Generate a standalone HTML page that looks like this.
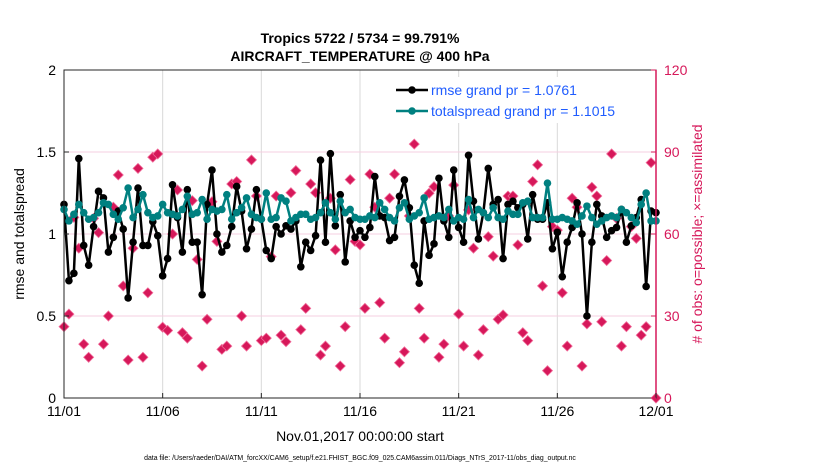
<!DOCTYPE html>
<html><head><meta charset="utf-8"><style>
body{margin:0;background:#fff;font-family:"Liberation Sans",Arial,sans-serif}
svg{display:block}
</style></head><body>
<svg width="830" height="470" viewBox="0 0 830 470" id="chart">
<text x="360" y="43" text-anchor="middle" font-size="14" font-weight="bold">Tropics 5722 / 5734 = 99.791%</text>
<text x="360" y="61" text-anchor="middle" font-size="14" font-weight="bold">AIRCRAFT_TEMPERATURE @ 400 hPa</text>
<g id="grid"></g>
<g id="obs"></g>
<g id="lines"></g>
<rect x="64" y="70" width="592" height="328" fill="none" stroke="#262626" stroke-width="1"/>
<line x1="656" y1="70" x2="656" y2="398" stroke="#d6185a" stroke-width="1.5"/>
<g id="axes"></g>
<text x="360" y="441" text-anchor="middle" font-size="14">Nov.01,2017 00:00:00 start</text>
<text transform="translate(24,234) rotate(-90)" text-anchor="middle" font-size="14">rmse and totalspread</text>
<text transform="translate(702,234) rotate(-90)" text-anchor="middle" font-size="14" fill="#d6185a"># of obs: o=possible; ×=assimilated</text>
<g>
<rect x="392" y="77" width="262" height="46" fill="#fff" stroke="none"/>
<g>
<line x1="396" y1="90" x2="428" y2="90" stroke="#000" stroke-width="2.5"/><circle cx="412" cy="90" r="3.8" fill="#000"/>
<text x="431" y="95" font-size="14" fill="#1f5cff">rmse grand pr = 1.0761</text></g>
<g>
<line x1="396" y1="111" x2="428" y2="111" stroke="#008080" stroke-width="2.5"/><circle cx="412" cy="111" r="3.8" fill="#008080"/>
<text x="431" y="116" font-size="14" fill="#1f5cff">totalspread grand pr = 1.1015</text></g>
</g>
<text x="360" y="460" text-anchor="middle" font-size="6.9">data file: /Users/raeder/DAI/ATM_forcXX/CAM6_setup/f.e21.FHIST_BGC.f09_025.CAM6assim.011/Diags_NTrS_2017-11/obs_diag_output.nc</text>
</svg>
<script>
const rmse=[1.18,0.715,0.76,1.46,0.93,0.81,1.045,1.26,1.22,0.89,0.98,1.14,1.03,0.61,0.95,1.28,0.93,0.93,1.075,0.99,0.745,0.85,1.30,1.10,0.89,1.27,0.95,0.95,0.63,1.18,1.39,
1.0,0.89,0.93,1.045,1.29,1.14,0.91,1.03,1.27,1.09,0.90,0.85,1.045,1.0,1.05,1.03,1.08,0.80,0.95,0.90,0.99,1.45,0.95,1.49,1.05,1.24,0.83,1.08,0.98,
1.02,0.98,1.04,1.35,1.11,1.10,0.96,0.98,1.23,1.33,1.16,0.81,0.70,1.08,0.87,0.94,1.34,1.08,0.98,1.39,1.04,0.95,1.48,1.20,0.97,1.13,1.40,1.18,1.21,0.85,1.18,
1.20,1.16,1.18,0.97,1.24,1.09,1.09,1.19,0.91,1.01,0.74,0.95,1.04,1.19,1.0,0.50,0.95,1.18,1.11,0.98,1.02,1.04,1.15,0.95,1.05,1.10,1.21,0.68,1.14,1.13];
const spread=[1.15,1.08,1.12,1.18,1.13,1.09,1.10,1.13,1.19,1.18,1.12,1.09,1.16,1.28,1.10,1.15,1.24,1.13,1.10,1.11,1.18,1.13,1.12,1.11,1.15,1.23,1.12,1.13,1.21,1.09,1.15,
1.14,1.15,1.24,1.09,1.13,1.16,1.22,1.12,1.10,1.09,1.25,1.09,1.10,1.22,1.20,1.08,1.10,1.12,1.12,1.09,1.10,1.13,1.19,1.13,1.09,1.20,1.13,1.15,1.10,1.09,
1.09,1.11,1.10,1.19,1.15,1.10,1.08,1.16,1.19,1.09,1.11,1.13,1.22,1.09,1.10,1.11,1.10,1.15,1.08,1.10,1.09,1.21,1.10,1.15,1.13,1.10,1.16,1.10,1.09,1.14,
1.12,1.12,1.19,1.20,1.10,1.10,1.10,1.31,1.09,1.09,1.10,1.09,1.08,1.06,1.11,1.17,1.10,1.06,1.08,1.10,1.11,1.10,1.15,1.13,1.10,1.07,1.18,1.25,1.08,1.08];
const obsCount=[26.1,30.7,66.1,54.8,19.7,14.9,65.7,60.5,19.7,30.0,69.8,81.6,41.0,13.9,54.8,84.0,14.9,38.5,88.1,89.3,25.9,24.7,60.0,76.1,23.9,21.9,72.2,50.7,11.7,28.8,71.8,
57.3,17.8,19.0,78.3,79.2,30.0,19.0,87.1,73.9,21.0,21.9,51.7,73.9,23.0,20.6,75.1,83.2,25.0,32.8,78.3,75.1,15.7,19.0,73.1,54.2,11.7,26.1,79.9,57.3,
56.0,32.8,81.9,69.8,34.9,21.9,73.1,81.9,12.9,16.9,66.6,92.9,32.8,21.9,74.9,77.3,14.9,19.7,66.6,77.9,30.7,19.0,68.8,54.8,15.7,25.0,59.0,51.9,28.8,30.4,73.9,
73.9,56.0,23.9,21.0,79.2,85.3,41.0,10.0,62.7,61.4,38.5,19.0,73.1,69.8,11.7,27.1,77.1,73.9,27.9,50.3,89.3,65.7,19.0,26.1,62.7,58.4,23.0,26.1,86.1,0];
const xTickLabels=["11/01","11/06","11/11","11/16","11/21","11/26","12/01"];
const leftTicks=[0,0.5,1,1.5,2];
const leftTickLabels=["0","0.5","1","1.5","2"];
const rightTicks=[0,30,60,90,120];

const NS="http://www.w3.org/2000/svg";
const X0=64,X1=656,Y0=398,Y1=70;
const xs=i=>X0+(X1-X0)*i/120;
const yL=v=>Y0-(Y0-Y1)*v/2;
const yR=v=>Y0-(Y0-Y1)*v/120;
function mk(tag,attrs,parent){const e=document.createElementNS(NS,tag);for(const k in attrs)e.setAttribute(k,attrs[k]);parent.appendChild(e);return e;}
const grid=document.getElementById('grid'),axes=document.getElementById('axes'),obs=document.getElementById('obs'),lines=document.getElementById('lines');
xTickLabels.forEach((t,k)=>{
  const x=xs(k*20);
  if(k>0&&k<xTickLabels.length-1){const g=mk('line',{x1:x,y1:Y1,x2:x,y2:Y0,stroke:'#d9d9d9','stroke-width':1},grid);
  
  }
  const tk=mk('line',{x1:x,y1:Y0,x2:x,y2:Y0-5,stroke:'#262626'},axes);
  
  
  const tx=mk('text',{x:x,y:Y0+18,'text-anchor':'middle','font-size':14},axes);tx.textContent=t;
  
  
});
leftTicks.forEach((v,k)=>{
  const y=yL(v);
  if(v>0&&v<2){const g=mk('line',{x1:X0,y1:y,x2:X1,y2:y,stroke:'#f5cfe0','stroke-width':1},grid);
  
  }
  const tk=mk('line',{x1:X0,y1:y,x2:X0+5,y2:y,stroke:'#262626'},axes);
  
  
  const tx=mk('text',{x:X0-8,y:y+5,'text-anchor':'end','font-size':14},axes);tx.textContent=leftTickLabels[k];
  
  
});
rightTicks.forEach(v=>{
  const y=yR(v);
  const tk=mk('line',{x1:X1,y1:y,x2:X1-5,y2:y,stroke:'#d6185a'},axes);
  
  
  const tx=mk('text',{x:X1+8,y:y+5,'font-size':14,fill:'#d6185a'},axes);tx.textContent=String(v);
  
  
});
obsCount.forEach((v,i)=>{
  const x=xs(i),y=yR(v);
  const d=mk('path',{d:`M${x-5},${y}L${x},${y-5}L${x+5},${y}L${x},${y+5}Z`,fill:'#d6185a',stroke:'#f06a98','stroke-width':0.8},obs);
  
  
});
function series(arr,color,name){
  const p=mk('polyline',{points:arr.map((v,i)=>xs(i)+','+yL(v)).join(' '),fill:'none',stroke:color,'stroke-width':2.5,'stroke-linejoin':'round'},lines);
  
  
  arr.forEach((v,i)=>{const c=mk('circle',{cx:xs(i),cy:yL(v),r:3.8,fill:color},lines);
  
  });
}
series(rmse,'#000','rmse');
series(spread,'#008080','totalspread');
</script>
</body></html>
